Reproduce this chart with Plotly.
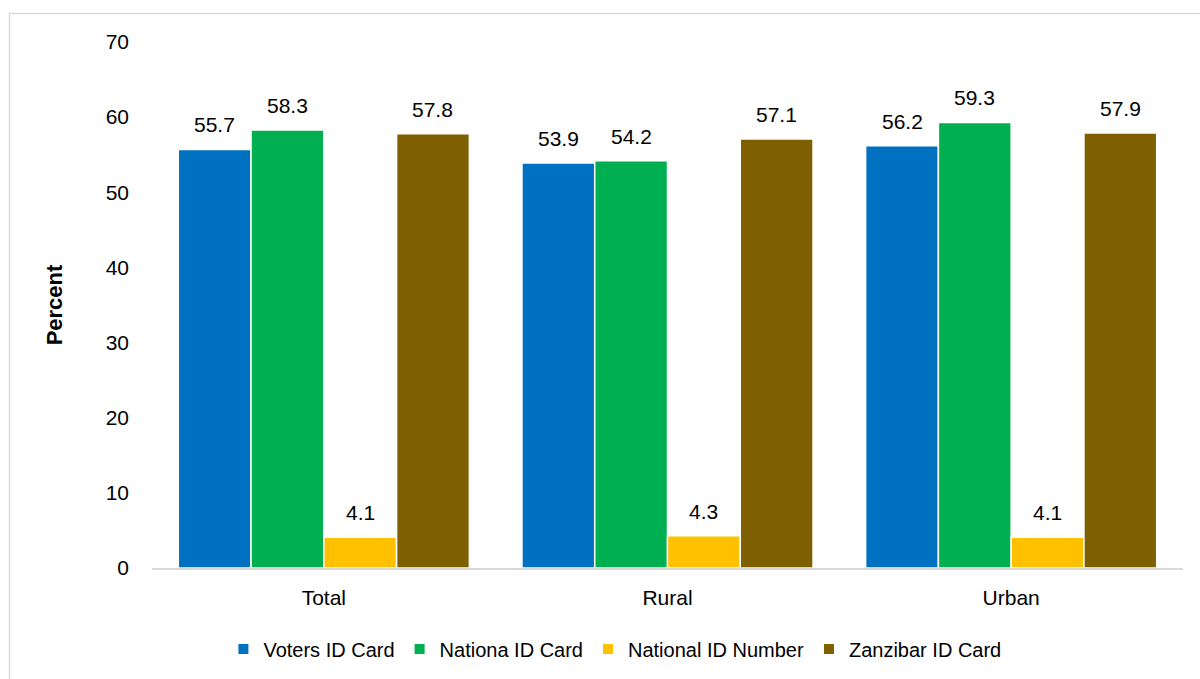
import plotly.graph_objects as go

# Categories and series values (percent)
categories = ["Total", "Rural", "Urban"]
series_names = ["Voters ID Card", "Nationa ID Card", "National ID Number", "Zanzibar ID Card"]
voters_id = [55.7, 53.9, 56.2]
national_id_card = [58.3, 54.2, 59.3]
national_id_number = [4.1, 4.3, 4.1]
zanzibar_id = [57.8, 57.1, 57.9]
y_ticks = [0, 10, 20, 30, 40, 50, 60, 70]

series_values = [voters_id, national_id_card, national_id_number, zanzibar_id]
colors = ["#0070C0", "#00B050", "#FFC000", "#7F6000"]

FONT = "Liberation Sans Narrow, Arial Narrow, Liberation Sans, Arial, sans-serif"

W, H = 1200, 679
margin = dict(l=152, r=17, t=42, b=110)
plot_w = W - margin["l"] - margin["r"]
bargap = 0.153
slot = plot_w / len(categories) * (1 - bargap) / len(series_names)

fig = go.Figure()
for name, vals, col in zip(series_names, series_values, colors):
    fig.add_trace(go.Bar(
        name=name, x=categories, y=vals,
        marker=dict(color=col, line=dict(color="white", width=1.5)),
    ))

# Value labels above each bar
n = len(series_names)
for i, vals in enumerate(series_values):
    offset = (i - (n - 1) / 2) * slot
    for cat, v in zip(categories, vals):
        fig.add_annotation(
            x=cat, y=v, text=f"{v:.1f}", showarrow=False,
            xshift=offset, yshift=11, yanchor="bottom",
            font=dict(family=FONT, size=21, color="#000000"),
        )

# Light outer frame
fig.add_shape(type="rect", xref="paper", yref="paper",
              x0=(9.5 - margin["l"]) / plot_w, x1=1.2,
              y0=-0.5, y1=(569 - 13.5) / (H - margin["t"] - margin["b"]),
              line=dict(color="#D9D9D9", width=1.5), fillcolor="rgba(0,0,0,0)",
              layer="below")

fig.update_layout(
    width=W, height=H,
    margin=margin,
    paper_bgcolor="white", plot_bgcolor="white",
    barmode="group", bargap=bargap, bargroupgap=0,
    font=dict(family=FONT, size=20, color="#000000"),
    showlegend=True,
    legend=dict(orientation="h", x=0.449, xanchor="center", y=-0.115, yanchor="top",
                font=dict(family=FONT, size=20), itemsizing="constant",
                traceorder="normal"),
    xaxis=dict(showline=True, linecolor="#D9D9D9", linewidth=2, ticks="",
               tickfont=dict(family=FONT, size=21), showgrid=False,
               ticklabelstandoff=10),
    yaxis=dict(range=[0, 70], tickvals=y_ticks, showgrid=False, showline=False,
               zeroline=False, ticks="", tickfont=dict(family=FONT, size=21),
               ticklabelstandoff=22,
               title=dict(text="<b>Percent</b>", font=dict(family=FONT, size=22),
                          standoff=36)),
)

fig.write_html("out.html")
